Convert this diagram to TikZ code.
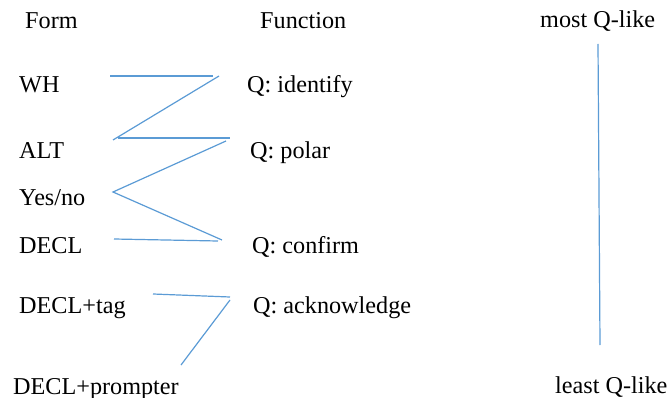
\documentclass[tikz,border=0pt]{standalone}
\usepackage{fontspec}
\setmainfont{Liberation Serif}
\usetikzlibrary{positioning}
\definecolor{linkblue}{RGB}{91,155,213}

\begin{document}
\begin{tikzpicture}[
  x=1pt, y=-1pt,
  every node/.style={font=\fontsize{24.2}{28}\selectfont, inner sep=0pt, anchor=base west},
  link/.style={linkblue, line width=1.2pt},
]
\useasboundingbox (0,0) rectangle (671,398);

% Column headings
\node (form) at (25,29) {Form};
\node (func) at (260,29) {Function};
\node (most) at (540,28) {most Q-like};
\node (least) at (555,393) {least Q-like};

% Forms
\node (wh)   at (19,93)  {WH};
\node (alt)  at (19,158) {ALT};
\node (yn)   at (19,205) {Yes/no};
\node (decl) at (19,253) {DECL};
\node (tag)  at (19,313) {DECL+tag};
\node (prm)  at (13,394) {DECL+prompter};

% Functions
\node (qid)  at (247,93)  {Q: identify};
\node (qpol) at (250,158) {Q: polar};
\node (qcon) at (252,253) {Q: confirm};
\node (qack) at (253,313) {Q: acknowledge};

% Line ends
\coordinate (wh1) at (110,76);  \coordinate (wh2) at (213,76);
\coordinate (z1)  at (219,76);  \coordinate (z2)  at (113,140);
\coordinate (al1) at (118,138); \coordinate (al2) at (230,138);
\coordinate (z3)  at (226,141); \coordinate (z4)  at (113,192);
\coordinate (z5)  at (222,240);
\coordinate (de1) at (114,239); \coordinate (de2) at (218,241);
\coordinate (tg1) at (153,294); \coordinate (tg2) at (230,297);
\coordinate (tg3) at (230,300); \coordinate (pr1) at (181,365);
\coordinate (sc1) at (598,44);  \coordinate (sc2) at (600,345);

% Zigzag links
\draw[link] (wh1) -- (wh2);
\draw[link] (z1) -- (z2);
\draw[link] (al1) -- (al2);
\draw[link] (z3) -- (z4) -- (z5);
\draw[link] (de1) -- (de2);
\draw[link] (tg1) -- (tg2);
\draw[link] (tg3) -- (pr1);

% Scale
\draw[link] (sc1) -- (sc2);
\end{tikzpicture}
\end{document}
